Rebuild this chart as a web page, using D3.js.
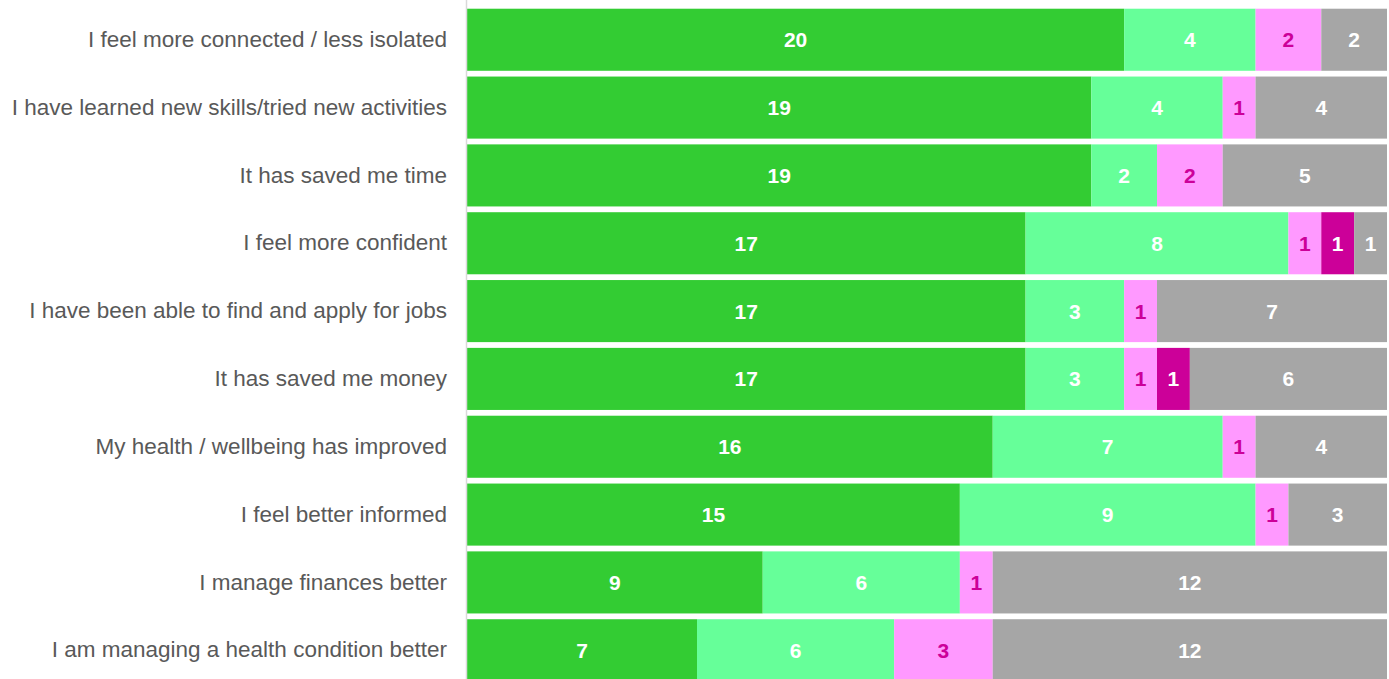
<!DOCTYPE html>
<html>
<head>
<meta charset="utf-8">
<script src="https://cdn.jsdelivr.net/npm/d3@7"></script>
<style>
  html, body { margin: 0; padding: 0; background: #fff; }
  svg { display: block; }
</style>
</head>
<body>
<svg id="chart" width="1389" height="679"></svg>
<script>
// Survey statements, top to bottom
const categories = [
  "I feel more connected / less isolated",
  "I have learned new skills/tried new activities",
  "It has saved me time",
  "I feel more confident",
  "I have been able to find and apply for jobs",
  "It has saved me money",
  "My health / wellbeing has improved",
  "I feel better informed",
  "I manage finances better",
  "I am managing a health condition better"
];

// Response counts per statement
const stronglyAgree    = [20, 19, 19, 17, 17, 17, 16, 15, 9, 7];
const agree            = [4, 4, 2, 8, 3, 3, 7, 9, 6, 6];
const disagree         = [2, 1, 2, 1, 1, 1, 1, 1, 1, 3];
const stronglyDisagree = [0, 0, 0, 1, 0, 1, 0, 0, 0, 0];
const notApplicable    = [2, 4, 5, 1, 7, 6, 4, 3, 12, 12];

const seriesKeys = ["stronglyAgree", "agree", "disagree", "stronglyDisagree", "notApplicable"];
const seriesValues = { stronglyAgree, agree, disagree, stronglyDisagree, notApplicable };
const fills = {
  stronglyAgree: "#33cc33",
  agree: "#66ff99",
  disagree: "#ff99ff",
  stronglyDisagree: "#cc0099",
  notApplicable: "#a6a6a6"
};
const labelColors = {
  stronglyAgree: "#ffffff",
  agree: "#ffffff",
  disagree: "#cc0099",
  stronglyDisagree: "#ffffff",
  notApplicable: "#ffffff"
};

const rows = categories.map((c, i) => {
  const r = { category: c };
  seriesKeys.forEach(k => { r[k] = seriesValues[k][i]; });
  return r;
});

const svg = d3.select("#chart");
const margin = { top: 6, right: 2, bottom: -5, left: 467 };
const width = 1389 - margin.left - margin.right;
const height = 679 - margin.top - margin.bottom;

const total = d3.max(rows, r => d3.sum(seriesKeys, k => r[k]));

const x = d3.scaleLinear().domain([0, total]).range([0, width]);
const y = d3.scaleBand().domain(categories).range([0, height]).paddingInner(0.085).paddingOuter(0.04);

const g = svg.append("g").attr("transform", `translate(${margin.left},${margin.top})`);

const stacked = d3.stack().keys(seriesKeys)(rows);

const layers = g.selectAll("g.layer")
  .data(stacked)
  .join("g")
  .attr("class", "layer")
  .attr("fill", d => fills[d.key]);

layers.selectAll("rect")
  .data(d => d.map(p => ({ key: d.key, p })))
  .join("rect")
  .attr("x", d => x(d.p[0]))
  .attr("y", d => y(d.p.data.category))
  .attr("width", d => x(d.p[1]) - x(d.p[0]))
  .attr("height", y.bandwidth());

layers.selectAll("text")
  .data(d => d.map(p => ({ key: d.key, p })).filter(d => d.p[1] - d.p[0] > 0))
  .join("text")
  .attr("x", d => (x(d.p[0]) + x(d.p[1])) / 2)
  .attr("y", d => y(d.p.data.category) + y.bandwidth() / 2)
  .attr("dy", "0.36em")
  .attr("text-anchor", "middle")
  .attr("font-family", "Liberation Sans, Arial, sans-serif")
  .attr("font-weight", "bold")
  .attr("font-size", 21)
  .attr("fill", d => labelColors[d.key])
  .text(d => d.p[1] - d.p[0]);

// Category axis on the left
const yAxis = g.append("g")
  .call(d3.axisLeft(y).tickSize(0).tickPadding(20));
yAxis.select(".domain").attr("stroke", "#d9d9d9").attr("stroke-width", 1.5)
  .attr("d", `M-0.5,-6V${height + 5}`);
yAxis.selectAll("text")
  .attr("font-family", "Liberation Sans, Arial, sans-serif")
  .attr("font-size", 22.5)
  .attr("fill", "#595959");
</script>
</body>
</html>
